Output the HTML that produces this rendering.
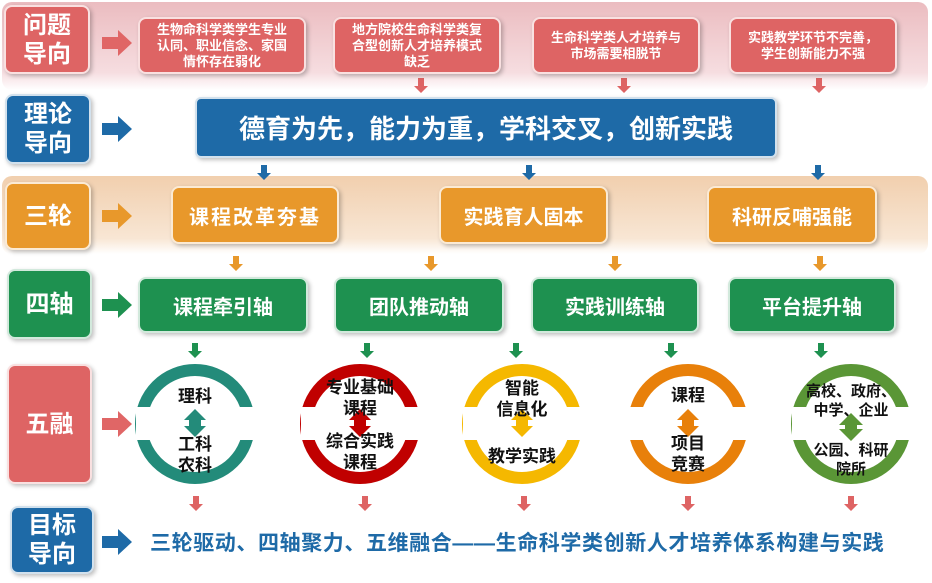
<!DOCTYPE html>
<html><head><meta charset="utf-8"><style>
*{margin:0;padding:0;box-sizing:border-box}
body{width:932px;height:583px;background:#fff;position:relative;overflow:hidden;font-family:"Liberation Sans","Noto Sans CJK SC",sans-serif;font-weight:bold}
.a{position:absolute}
.box{position:absolute;display:flex;align-items:center;justify-content:center;text-align:center;color:#fff;border-radius:8px;border:2px solid rgba(255,255,255,.8);box-shadow:2px 2px 4px rgba(0,0,0,.25)}
.lab{font-size:24px;line-height:29px}
.r{background:#de6464}.b{background:#1e6aa7}.o{background:#e8982b}.g{background:#1e9150}
.sm{font-size:13px;line-height:16px}
.ring{position:absolute;font-size:17px;color:#111;text-align:center;line-height:21px}
</style></head><body>
<div class="a" style="left:2px;top:2px;width:926px;height:88px;border-radius:10px;background:linear-gradient(#ebbcc0,#f6dde0 80%,#fff)"></div>
<div class="a" style="left:2px;top:176px;width:926px;height:78px;border-radius:10px;background:linear-gradient(#f1cfae,#f8e6d4 80%,#fff)"></div>

<div class="box r lab" style="left:4px;top:5px;width:86px;height:69px">问题<br>导向</div>
<div class="box b lab" style="left:5px;top:94px;width:86px;height:70px">理论<br>导向</div>
<div class="box o lab" style="left:5px;top:182px;width:86px;height:68px">三轮</div>
<div class="box g lab" style="left:7px;top:269px;width:85px;height:70px">四轴</div>
<div class="box r lab" style="left:7px;top:364px;width:85px;height:120px">五融</div>
<div class="box b lab" style="left:10px;top:506px;width:84px;height:68px">目标<br>导向</div>

<svg class="a" style="left:0;top:0" width="932" height="583">
<g>
<path d="M102,37h16v-7l14,13l-14,13v-7h-16z" fill="#e06666"/>
<path d="M102,123h16v-7l14,13l-14,13v-7h-16z" fill="#1e6aa7"/>
<path d="M102,210h16v-7l14,13l-14,13v-7h-16z" fill="#e8982b"/>
<path d="M102,299h16v-7l14,13l-14,13v-7h-16z" fill="#1e9150"/>
<path d="M102,418h16v-7l14,13l-14,13v-7h-16z" fill="#e06666"/>
<path d="M102,536h16v-7l14,13l-14,13v-7h-16z" fill="#1e6aa7"/>
</g>
<g fill="#de6464">
<path d="M418,78h6v8h4l-7,7l-7,-7h4z"/><path d="M621,78h6v8h4l-7,7l-7,-7h4z"/><path d="M816,78h6v8h4l-7,7l-7,-7h4z"/>
<path d="M193,496h6v8h4l-7,7l-7,-7h4z"/><path d="M362,496h6v8h4l-7,7l-7,-7h4z"/><path d="M521,496h6v8h4l-7,7l-7,-7h4z"/><path d="M685,496h6v8h4l-7,7l-7,-7h4z"/><path d="M848,496h6v8h4l-7,7l-7,-7h4z"/>
</g>
<g fill="#1e6aa7">
<path d="M261,165h6v8h4l-7,7l-7,-7h4z"/><path d="M526,165h6v8h4l-7,7l-7,-7h4z"/><path d="M815,165h6v8h4l-7,7l-7,-7h4z"/>
</g>
<g fill="#e8982b">
<path d="M233,256h6v8h4l-7,7l-7,-7h4z"/><path d="M428,256h6v8h4l-7,7l-7,-7h4z"/><path d="M612,256h6v8h4l-7,7l-7,-7h4z"/><path d="M817,256h6v8h4l-7,7l-7,-7h4z"/>
</g>
<g fill="#1e9150">
<path d="M192,343h6v8h4l-7,7l-7,-7h4z"/><path d="M364,343h6v8h4l-7,7l-7,-7h4z"/><path d="M513,343h6v8h4l-7,7l-7,-7h4z"/><path d="M668,343h6v8h4l-7,7l-7,-7h4z"/><path d="M818,343h6v8h4l-7,7l-7,-7h4z"/>
</g>
<g fill="none" stroke-width="12">
<circle cx="195" cy="424" r="54" stroke="#238b7a"/>
<circle cx="360" cy="424" r="54" stroke="#c00000"/>
<circle cx="522" cy="424" r="54" stroke="#f5b800"/>
<circle cx="688" cy="424" r="54" stroke="#e8800a"/>
<circle cx="851" cy="424" r="54" stroke="#5a9636"/>
</g>
<g fill="#fff">
<rect x="136" y="407" width="122" height="33"/><rect x="301" y="407" width="122" height="33"/><rect x="463" y="407" width="122" height="33"/><rect x="628" y="407" width="122" height="33"/><rect x="792" y="407" width="122" height="33"/>
</g>
<path d="M195,409l11,11h-5v6h5l-11,11l-11,-11h5v-6h-5z" fill="#238b7a"/>
<path d="M360,409l11,11h-5v6h5l-11,11l-11,-11h5v-6h-5z" fill="#c00000"/>
<path d="M522,409l11,11h-5v6h5l-11,11l-11,-11h5v-6h-5z" fill="#f5b800"/>
<path d="M688,409l11,11h-5v6h5l-11,11l-11,-11h5v-6h-5z" fill="#e8800a"/>
<path d="M851,413l12,12h-6v4h6l-12,12l-12,-12h6v-4h-6z" fill="#5a9636"/>
</svg>

<div class="box r sm" style="left:138px;top:17px;width:168px;height:57px">生物命科学类学生专业<br>认同、职业信念、家国<br>情怀存在弱化</div>
<div class="box r sm" style="left:333px;top:17px;width:168px;height:57px">地方院校生命科学类复<br>合型创新人才培养模式<br>缺乏</div>
<div class="box r sm" style="left:532px;top:17px;width:168px;height:57px">生命科学类人才培养与<br>市场需要相脱节</div>
<div class="box r sm" style="left:729px;top:17px;width:168px;height:57px">实践教学环节不完善，<br>学生创新能力不强</div>

<div class="box b" style="left:195px;top:97px;width:582px;height:61px;font-size:26px;border-radius:6px">德育为先，能力为重，学科交叉，创新实践</div>

<div class="box o" style="left:171px;top:186px;width:168px;height:58px;font-size:20px;letter-spacing:2px">课程改革夯基</div>
<div class="box o" style="left:439px;top:186px;width:169px;height:58px;font-size:20px">实践育人固本</div>
<div class="box o" style="left:707px;top:186px;width:170px;height:58px;font-size:20px">科研反哺强能</div>

<div class="box g" style="left:138px;top:277px;width:170px;height:56px;font-size:20px">课程牵引轴</div>
<div class="box g" style="left:334px;top:277px;width:170px;height:56px;font-size:20px">团队推动轴</div>
<div class="box g" style="left:531px;top:277px;width:168px;height:56px;font-size:20px">实践训练轴</div>
<div class="box g" style="left:728px;top:277px;width:168px;height:56px;font-size:20px">平台提升轴</div>

<div class="ring" style="left:155px;top:386px;width:80px">理科</div>
<div class="ring" style="left:155px;top:434px;width:80px">工科<br>农科</div>
<div class="ring" style="left:305px;top:377px;width:110px">专业基础<br>课程</div>
<div class="ring" style="left:305px;top:431px;width:110px">综合实践<br>课程</div>
<div class="ring" style="left:467px;top:378px;width:110px">智能<br>信息化</div>
<div class="ring" style="left:467px;top:446px;width:110px">教学实践</div>
<div class="ring" style="left:633px;top:385px;width:110px">课程</div>
<div class="ring" style="left:633px;top:433px;width:110px">项目<br>竞赛</div>
<div class="ring" style="left:791px;top:382px;width:120px;font-size:15px;line-height:19px">高校、政府、<br>中学、企业</div>
<div class="ring" style="left:791px;top:441px;width:120px;font-size:15px;line-height:19px">公园、科研<br>院所</div>

<div class="a" style="left:150px;top:527px;font-size:21px;color:#1e6aa7;white-space:nowrap;letter-spacing:0.6px">三轮驱动、四轴聚力、五维融合——生命科学类创新人才培养体系构建与实践</div>
</body></html>
